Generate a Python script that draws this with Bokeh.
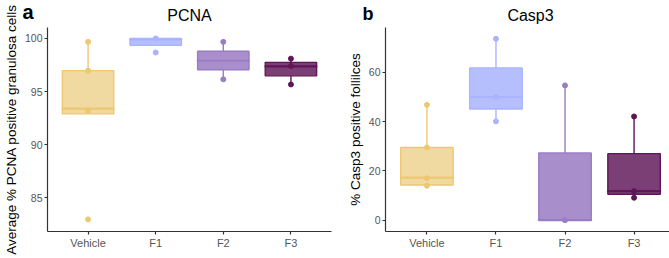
from bokeh.plotting import figure
from bokeh.layouts import row, column
from bokeh.models import FactorRange, Range1d, FixedTicker, ColumnDataSource, Div
from bokeh.embed import file_html
from bokeh.resources import INLINE

groups = ["Vehicle", "F1", "F2", "F3"]
fill_colors = ["#F0DAA2", "#B6BFFE", "#A88ECA", "#7B3E75"]
line_colors = ["#EDC870", "#A9B4FF", "#9A7CC2", "#5E1658"]
panel_tags = ["a", "b"]
panel_titles = ["PCNA", "Casp3"]

# PCNA box statistics
pcna_low = [92.9, 99.35, 96.15, 95.67]
pcna_q1 = [92.9, 99.35, 97.05, 96.48]
pcna_med = [93.4, 99.9, 97.9, 97.37]
pcna_q3 = [96.97, 100.0, 98.8, 97.75]
pcna_high = [99.68, 100.0, 99.68, 98.1]
pcna_pts_g = ["Vehicle", "Vehicle", "Vehicle", "Vehicle", "F1", "F1", "F2", "F2", "F3", "F3", "F3"]
pcna_pts_v = [99.68, 96.97, 93.2, 82.97, 100.0, 98.68, 99.68, 96.15, 98.1, 97.4, 95.67]

# Casp3 box statistics
casp_low = [14.0, 40.1, 0.0, 9.1]
casp_q1 = [14.3, 45.1, 0.0, 10.5]
casp_med = [17.3, 50.0, 0.0, 11.8]
casp_q3 = [29.5, 61.8, 27.3, 27.0]
casp_high = [46.8, 73.6, 54.7, 42.1]
casp_pts_g = ["Vehicle", "Vehicle", "Vehicle", "Vehicle", "F1", "F1", "F1", "F2", "F2", "F3", "F3", "F3"]
casp_pts_v = [46.8, 29.5, 17.0, 14.0, 73.6, 50.0, 40.1, 54.7, 0.0, 42.1, 11.8, 9.1]

FONT = "Liberation Sans"


def make_panel(title, ylabel, low, q1, med, q3, high, pg, pv, yr, yticks,
               frame_w, left, right):
    p = figure(x_range=FactorRange(*groups, range_padding=0.1, range_padding_units="absolute"),
               y_range=Range1d(*yr), frame_width=frame_w, frame_height=204,
               min_border_left=left, min_border_right=right, min_border_top=27, min_border_bottom=27,
               output_backend="svg", toolbar_location=None, title=title)
    p.title.align = "center"
    p.title.text_font = FONT
    p.title.text_font_size = "16px"
    p.title.text_font_style = "normal"
    p.title.text_color = "black"
    p.title.standoff = 8
    p.xgrid.visible = False
    p.ygrid.visible = False
    p.outline_line_color = None
    p.background_fill_color = "white"
    p.border_fill_color = None

    src = ColumnDataSource(dict(g=groups, low=low, q1=q1, med=med, q3=q3, high=high,
                                fc=fill_colors, lc=line_colors))
    p.segment(x0="g", y0="q3", x1="g", y1="high", source=src, line_color="lc", line_width=1.4)
    p.segment(x0="g", y0="low", x1="g", y1="q1", source=src, line_color="lc", line_width=1.4)
    p.vbar(x="g", bottom="q1", top="q3", width=0.76, source=src, fill_color="fc",
           line_color="lc", line_width=1.4)
    p.rect(x="g", y="med", width=0.76, height=0.001, source=src, line_color="lc",
           line_width=2.2, fill_color=None, height_units="screen")
    col_map = dict(zip(groups, line_colors))
    psrc = ColumnDataSource(dict(g=pg, v=pv, c=[col_map[x] for x in pg]))
    p.scatter(x="g", y="v", source=psrc, size=5, color="c")

    p.yaxis.ticker = FixedTicker(ticks=yticks)
    for ax in (p.xaxis[0], p.yaxis[0]):
        ax.axis_line_color = "#333333"
        ax.axis_line_width = 1.2
        ax.major_tick_line_color = "#333333"
        ax.major_tick_line_width = 1.2
        ax.major_tick_in = 0
        ax.major_tick_out = 3
        ax.minor_tick_line_color = None
        ax.major_label_text_font = FONT
        ax.major_label_text_font_size = "10.5px"
        ax.major_label_text_color = "#555555"
        ax.major_label_standoff = 2
    p.xaxis.major_label_text_font_size = "11px"
    p.yaxis.axis_label = ylabel
    p.yaxis.axis_label_text_font = FONT
    p.yaxis.axis_label_text_font_size = "13.5px"
    p.yaxis.axis_label_text_font_style = "normal"
    p.yaxis.axis_label_text_color = "black"
    p.yaxis.axis_label_standoff = 3
    p.margin = 0
    return p


pa = make_panel(panel_titles[0], "Average % PCNA positive granulosa cells",
                pcna_low, pcna_q1, pcna_med, pcna_q3, pcna_high, pcna_pts_g, pcna_pts_v,
                (81.83, 101.03), [85, 90, 95, 100], 284, 40, 11)
pb = make_panel(panel_titles[1], "% Casp3 positive follilces",
                casp_low, casp_q1, casp_med, casp_q3, casp_high, casp_pts_g, casp_pts_v,
                (-4.6, 78.2), [0, 20, 40, 60], 290, 43, 1)

tag_html = (
    '<div style="position:relative;width:669px;height:27px;font-family:\'Liberation Sans\',Arial,sans-serif;color:#000;">'
    '<span style="position:absolute;left:22.5px;top:1.6px;font-size:20px;line-height:20px;font-weight:bold;">%s</span>'
    '<span style="position:absolute;left:362.5px;top:5.2px;font-size:18px;line-height:18px;font-weight:bold;">%s</span>'
    '</div>' % (panel_tags[0], panel_tags[1])
)
header = Div(text=tag_html, width=669, height=27, margin=0)

plots = row(pa, pb, spacing=0)
plots.margin = (-27, 0, 0, 0)
layout = column(header, plots, spacing=0)
layout.margin = 0
open("out.html", "w").write(file_html(layout, INLINE))
